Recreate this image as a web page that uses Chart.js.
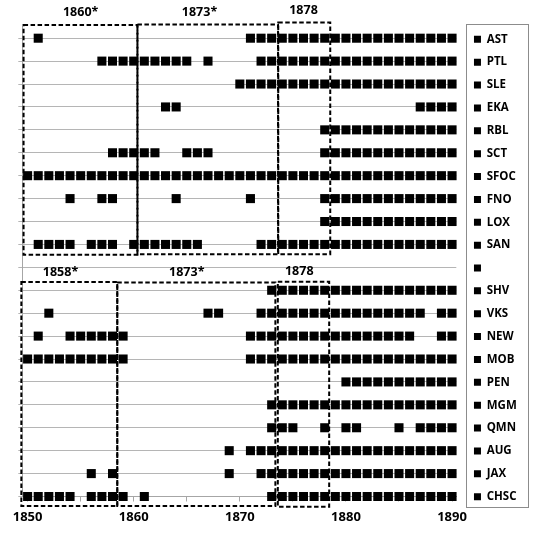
<!DOCTYPE html>
<html>
<head>
<meta charset="utf-8">
<script src="https://cdn.jsdelivr.net/npm/chart.js@4.4.1/dist/chart.umd.min.js"></script>
<style>
html,body{margin:0;padding:0;background:#fff;}
#wrap{width:540px;height:536px;}
</style>
</head>
<body>
<div id="wrap"><canvas id="c" width="540" height="536"></canvas></div>
<script>
// ---- data ----
const categories = ['AST','PTL','SLE','EKA','RBL','SCT','SFOC','FNO','LOX','SAN','','SHV','VKS','NEW','MOB','PEN','MGM','QMN','AUG','JAX','CHSC'];

const AST  = [1851,1871,1872,1873,1874,1875,1876,1877,1878,1879,1880,1881,1882,1883,1884,1885,1886,1887,1888,1889,1890];
const PTL  = [1857,1858,1859,1860,1861,1862,1863,1864,1865,1867,1872,1873,1874,1875,1876,1877,1878,1879,1880,1881,1882,1883,1884,1885,1886,1887,1888,1889,1890];
const SLE  = [1870,1871,1872,1873,1874,1875,1876,1877,1878,1879,1880,1881,1882,1883,1884,1885,1886,1887,1888,1889,1890];
const EKA  = [1863,1864,1887,1888,1889,1890];
const RBL  = [1878,1879,1880,1881,1882,1883,1884,1885,1886,1887,1888,1889,1890];
const SCT  = [1858,1859,1860,1861,1862,1865,1866,1867,1878,1879,1880,1881,1882,1883,1884,1885,1886,1887,1888,1889,1890];
const SFOC = [1850,1851,1852,1853,1854,1855,1856,1857,1858,1859,1860,1861,1862,1863,1864,1865,1866,1867,1868,1869,1870,1871,1872,1873,1874,1875,1876,1877,1878,1879,1880,1881,1882,1883,1884,1885,1886,1887,1888,1889,1890];
const FNO  = [1854,1857,1858,1864,1871,1878,1879,1880,1881,1882,1883,1884,1885,1886,1887,1888,1889,1890];
const LOX  = [1878,1879,1880,1881,1882,1883,1884,1885,1886,1887,1888,1889,1890];
const SAN  = [1851,1852,1853,1854,1856,1857,1858,1860,1861,1862,1863,1864,1865,1866,1872,1873,1874,1875,1876,1877,1878,1879,1880,1881,1882,1883,1884,1885,1886,1887,1888,1889,1890];
const BLANK = [];
const SHV  = [1873,1874,1875,1876,1877,1878,1879,1880,1881,1882,1883,1884,1885,1886,1887,1888,1889,1890];
const VKS  = [1852,1867,1868,1872,1873,1874,1875,1876,1877,1878,1879,1880,1881,1882,1883,1884,1885,1886,1887,1889,1890];
const NEW  = [1851,1854,1855,1856,1857,1858,1859,1871,1872,1873,1874,1875,1876,1877,1878,1879,1880,1881,1882,1883,1884,1885,1886,1889,1890];
const MOB  = [1850,1851,1852,1853,1854,1855,1856,1857,1858,1859,1871,1872,1873,1874,1875,1876,1877,1878,1879,1880,1881,1882,1883,1884,1885,1886,1887,1888,1889,1890];
const PEN  = [1880,1881,1882,1883,1884,1885,1886,1887,1888,1889,1890];
const MGM  = [1873,1874,1875,1876,1877,1878,1879,1880,1881,1882,1883,1884,1885,1886,1887,1888,1889,1890];
const QMN  = [1873,1874,1875,1878,1880,1881,1885,1887,1888,1889,1890];
const AUG  = [1869,1871,1872,1873,1874,1875,1876,1877,1878,1879,1880,1881,1882,1883,1884,1885,1886,1887,1888,1889,1890];
const JAX  = [1856,1858,1869,1872,1873,1874,1875,1876,1877,1878,1879,1880,1881,1882,1883,1884,1885,1886,1887,1888,1889,1890];
const CHSC = [1850,1851,1852,1853,1854,1856,1857,1858,1859,1861,1873,1874,1875,1876,1877,1878,1879,1880,1881,1882,1883,1884,1885,1886,1887,1888,1889,1890];

const seriesYears = [AST,PTL,SLE,EKA,RBL,SCT,SFOC,FNO,LOX,SAN,BLANK,SHV,VKS,NEW,MOB,PEN,MGM,QMN,AUG,JAX,CHSC];

const xTickValues = [1850,1855,1860,1865,1870,1875,1880,1885,1890];
const xTickLabels = ['1850','','1860','','1870','','1880','','1890'];

// period annotations (in data units: years / row values)
const periodLabels = ['1860*','1873*','1878','1858*','1873*','1878'];
const periods = [
  {x0:1849.62, x1:1860.35, y0:11.55, y1:21.58, lx:1855.0, ly:22.12},
  {x0:1860.35, x1:1873.60, y0:11.57, y1:21.60, lx:1866.2, ly:22.12},
  {x0:1873.62, x1:1878.52, y0:11.57, y1:21.68, lx:1876.0, ly:22.22},
  {x0:1849.41, x1:1858.45, y0:0.58,  y1:10.36, lx:1853.1, ly:10.78},
  {x0:1858.45, x1:1873.35, y0:0.58,  y1:10.34, lx:1865.0, ly:10.78},
  {x0:1873.58, x1:1878.42, y0:0.55,  y1:10.37, lx:1875.6, ly:10.83}
];

// ---- chart ----
const FONT = "'Open Sans'";
Chart.defaults.font.family = FONT;
Chart.defaults.color = '#000';

const nRows = categories.length;
const datasets = categories.map((name, i) => ({
  label: name,
  data: seriesYears[i].map(yr => ({x: yr, y: nRows - i})),
  backgroundColor: '#000',
  borderColor: '#000',
  borderWidth: 0,
  pointStyle: 'rect',
  pointRadius: 6.4,
  pointHoverRadius: 6.4,
  pointBorderWidth: 0,
  clip: false
}));

const periodPlugin = {
  id: 'periodBoxes',
  afterDatasetsDraw(chart) {
    const {ctx, scales: {x, y}} = chart;
    ctx.save();
    ctx.strokeStyle = '#000';
    ctx.lineWidth = 2;
    ctx.setLineDash([4.5, 2.5]);
    periods.forEach(p => {
      const l = x.getPixelForValue(p.x0), r = x.getPixelForValue(p.x1);
      const t = y.getPixelForValue(p.y1), b = y.getPixelForValue(p.y0);
      ctx.strokeRect(l, t, r - l, b - t);
    });
    ctx.setLineDash([]);
    ctx.fillStyle = '#000';
    ctx.font = "bold 12.5px " + FONT;
    ctx.textAlign = 'center';
    ctx.textBaseline = 'middle';
    periods.forEach((p, i) => {
      ctx.fillText(periodLabels[i], x.getPixelForValue(p.lx), y.getPixelForValue(p.ly));
    });
    ctx.restore();
  },
  afterDraw(chart) {
    const lg = chart.legend;
    if (!lg || !lg.legendHitBoxes || !lg.legendHitBoxes.length) return;
    const hb = lg.legendHitBoxes;
    const last = hb[hb.length - 1];
    const x0 = Math.round(lg.left + 3.4) + 0.5;
    const top = Math.round(hb[0].top - 9.3) + 0.5;
    const bottom = Math.round(last.top + last.height + 4.5) + 0.5;
    const ctx = chart.ctx;
    ctx.save();
    ctx.strokeStyle = '#8c8c8c';
    ctx.lineWidth = 1;
    ctx.strokeRect(x0, top, 62, bottom - top);
    ctx.restore();
  }
};

new Chart(document.getElementById('c'), {
  type: 'scatter',
  data: {datasets},
  plugins: [periodPlugin],
  options: {
    responsive: false,
    animation: false,
    devicePixelRatio: 1,
    events: [],
    layout: {padding: {left: 18.3, right: 17.4, top: 0, bottom: 0}},
    plugins: {
      tooltip: {enabled: false},
      title: {
        display: true, text: '', fullSize: false,
        padding: {top: 16.74, bottom: 0},
        font: {size: 10, lineHeight: 1}
      },
      legend: {
        display: true,
        position: 'right',
        align: 'center',
        maxWidth: 60,
        labels: {
          boxWidth: 7,
          boxHeight: 7,
          padding: 11.37,
          color: '#000',
          font: {family: FONT, weight: 'bold', size: 11.5}
        }
      }
    },
    scales: {
      x: {
        type: 'linear',
        min: 1849.5,
        max: 1890.4,
        afterBuildTicks: s => { s.ticks = xTickValues.map(v => ({value: v})); },
        afterFit: s => { s.height = 39.5; },
        ticks: {
          callback: (v, i) => xTickLabels[i],
          font: {family: FONT, size: 13, weight: 'bold'},
          color: '#000',
          padding: 7.7,
          maxRotation: 0,
          autoSkip: false
        },
        grid: {drawOnChartArea: false, drawTicks: true, tickLength: 5, color: '#a6a6a6'},
        border: {display: true, color: '#a6a6a6'}
      },
      y: {
        type: 'linear',
        min: 1,
        max: 21.5,
        afterBuildTicks: s => { s.ticks = categories.map((_, i) => ({value: i + 1})); },
        afterFit: s => { s.width = 4; },
        ticks: {display: false},
        grid: {color: '#b5b5b5', tickLength: 4, drawTicks: true},
        border: {display: true, color: '#a6a6a6'}
      },
      yr: {
        type: 'linear',
        position: 'right',
        display: true,
        ticks: {display: false},
        grid: {display: false},
        border: {display: false},
        afterFit: s => { s.width = 6.3; }
      }
    }
  }
});
</script>
</body>
</html>
